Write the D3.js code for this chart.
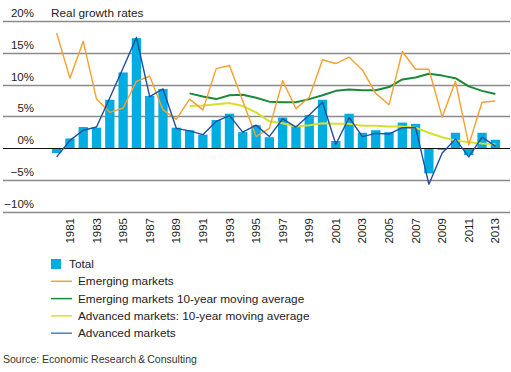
<!DOCTYPE html>
<html>
<head>
<meta charset="utf-8">
<script src="https://cdn.jsdelivr.net/npm/d3@7"></script>
<style>
  body { margin: 0; background: #fff; }
  svg { display: block; font-family: "Liberation Sans", Arial, sans-serif; }
</style>
</head>
<body>
<svg id="chart" width="511" height="372"></svg>
<script>
const years = d3.range(1980, 2014)
const yTicks = [-10, -5, 0, 5, 10, 15, 20]

const total = [-0.8, 1.5, 3.3, 3.2, 7.6, 11.9, 17.3, 8.2, 9.3, 3.2,
    2.8, 2.1, 4.4, 5.4, 2.5, 3.6, 1.7, 4.8, 3.4, 5.2,
    7.6, 1.1, 5.4, 2.4, 2.8, 2.5, 4.0, 3.8, -4.0, -0.3,
    2.4, -1.1, 2.4, 1.3]

const emerging = [18.1, 11.0, 16.8, 7.7, 5.6, 6.3, 10.5, 11.3, 6.0, 4.5,
    7.7, 6.0, 12.5, 13.0, 7.4, 1.8, 3.1, 10.6, 6.2, 8.0,
    13.9, 13.3, 14.3, 12.3, 8.6, 6.8, 15.2, 12.4, 12.4, 4.9,
    10.5, 0.5, 7.2, 7.4]

const advanced = [-1.4, 1.2, 2.8, 3.3, 7.9, 12.6, 17.4, 8.1, 9.3, 3.1,
    2.7, 2.1, 4.2, 5.1, 2.5, 3.6, 1.8, 4.6, 3.3, 5.2,
    7.2, 0.6, 4.8, 1.8, 2.3, 2.2, 3.2, 3.2, -5.7, -0.8,
    1.4, -1.4, 1.7, 0.3]

// moving averages start in 1990
const emergingMA = [null, null, null, null, null, null, null, null, null, null,
    8.6, 8.1, 7.7, 8.3, 8.4, 7.9, 7.3, 7.2, 7.2, 7.7,
    8.3, 9.0, 9.2, 9.1, 9.1, 9.6, 10.8, 11.1, 11.7, 11.4,
    11.0, 9.7, 9.0, 8.5]

const advancedMA = [null, null, null, null, null, null, null, null, null, null,
    6.6, 6.7, 6.9, 7.1, 6.6, 5.6, 4.2, 3.9, 3.4, 3.6,
    3.9, 3.8, 3.8, 3.5, 3.5, 3.4, 3.4, 3.2, 2.4, 1.7,
    1.2, 0.9, 0.7, 0.6]

const colors = {
    total: "#00ade2",
    emerging: "#f6a02d",
    emergingMA: "#1b8a38",
    advancedMA: "#d6e02c",
    advanced: "#1f4f9e"
}

const svg = d3.select("#chart")

const x = d3.scaleBand()
    .domain(years)
    .range([48, 504])
    .padding(0.3)

const y = d3.scaleLinear()
    .domain([-10, 20])
    .range([211.5, 21])

// gridlines + y labels
const grid = svg.append("g")
grid.selectAll("line")
    .data(yTicks.filter(d => d !== 0))
    .join("line")
    .attr("x1", 3).attr("x2", 510)
    .attr("y1", d => Math.round(y(d)) + 0.5)
    .attr("y2", d => Math.round(y(d)) + 0.5)
    .attr("stroke", "#8a8a8a")
    .attr("stroke-width", 1.3)

grid.selectAll("text")
    .data(yTicks)
    .join("text")
    .attr("x", 34)
    .attr("y", d => y(d) - 4)
    .attr("text-anchor", "end")
    .attr("font-size", 11.5)
    .attr("fill", "#222")
    .text(d => (d < 0 ? "\u2212" + (-d) : d) + "%")

svg.append("text")
    .attr("x", 51).attr("y", y(20) - 4)
    .attr("font-size", 11.8)
    .attr("fill", "#222")
    .text("Real growth rates")

// bars
svg.append("g")
    .selectAll("rect")
    .data(years.map((yr, i) => ({ yr, v: total[i] })))
    .join("rect")
    .attr("x", d => x(d.yr))
    .attr("width", x.bandwidth())
    .attr("y", d => y(Math.max(0, d.v)))
    .attr("height", d => Math.abs(y(d.v) - y(0)))
    .attr("fill", colors.total)

// zero line
svg.append("line")
    .attr("x1", 3).attr("x2", 510)
    .attr("y1", Math.round(y(0)) + 0.5).attr("y2", Math.round(y(0)) + 0.5)
    .attr("stroke", "#111")
    .attr("stroke-width", 1.2)

const line = d3.line()
    .defined(d => d.v != null)
    .x(d => x(d.yr) + x.bandwidth() / 2)
    .y(d => y(d.v))

const series = [
    { key: "advancedMA", values: advancedMA },
    { key: "emergingMA", values: emergingMA },
    { key: "emerging", values: emerging },
    { key: "advanced", values: advanced }
]

svg.append("g")
    .selectAll("path")
    .data(series)
    .join("path")
    .attr("fill", "none")
    .attr("stroke", d => colors[d.key])
    .attr("stroke-width", d => d.key.endsWith("MA") ? 2 : 1.4)
    .attr("stroke-linejoin", "round")
    .attr("d", d => line(years.map((yr, i) => ({ yr, v: d.values[i] }))))

// x axis labels
svg.append("g")
    .selectAll("text")
    .data(years.filter(d => d % 2 === 1))
    .join("text")
    .attr("transform", d => `translate(${x(d) + x.bandwidth() / 2},218) rotate(-90)`)
    .attr("text-anchor", "end")
    .attr("dy", "0.35em")
    .attr("font-size", 11.5)
    .attr("fill", "#222")
    .text(d => d)

// legend
const legendItems = [
    { key: "total", label: "Total", type: "rect" },
    { key: "emerging", label: "Emerging markets", type: "line" },
    { key: "emergingMA", label: "Emerging markets 10-year moving average", type: "line" },
    { key: "advancedMA", label: "Advanced markets: 10-year moving average", type: "line" },
    { key: "advanced", label: "Advanced markets", type: "line" }
]

const legend = svg.append("g")
    .selectAll("g")
    .data(legendItems)
    .join("g")
    .attr("transform", (d, i) => `translate(0,${265 + i * 17.3})`)

legend.filter(d => d.type === "rect")
    .append("rect")
    .attr("x", 51).attr("y", -6)
    .attr("width", 10).attr("height", 10)
    .attr("fill", d => colors[d.key])

legend.filter(d => d.type === "line")
    .append("line")
    .attr("x1", 51).attr("x2", 72)
    .attr("y1", -1).attr("y2", -1)
    .attr("stroke", d => d.key === "advanced" ? "#4f7fbf" : colors[d.key])
    .attr("stroke-width", 1.5)

legend.append("text")
    .attr("x", d => d.type === "rect" ? 69 : 78)
    .attr("y", 3)
    .attr("font-size", 11.8)
    .attr("fill", "#222")
    .text(d => d.label)

svg.append("text")
    .attr("x", 3).attr("y", 363)
    .attr("font-size", 10.5)
    .attr("fill", "#333")
    .text("Source: Economic Research\u2009&\u2009Consulting")
</script>
</body>
</html>
